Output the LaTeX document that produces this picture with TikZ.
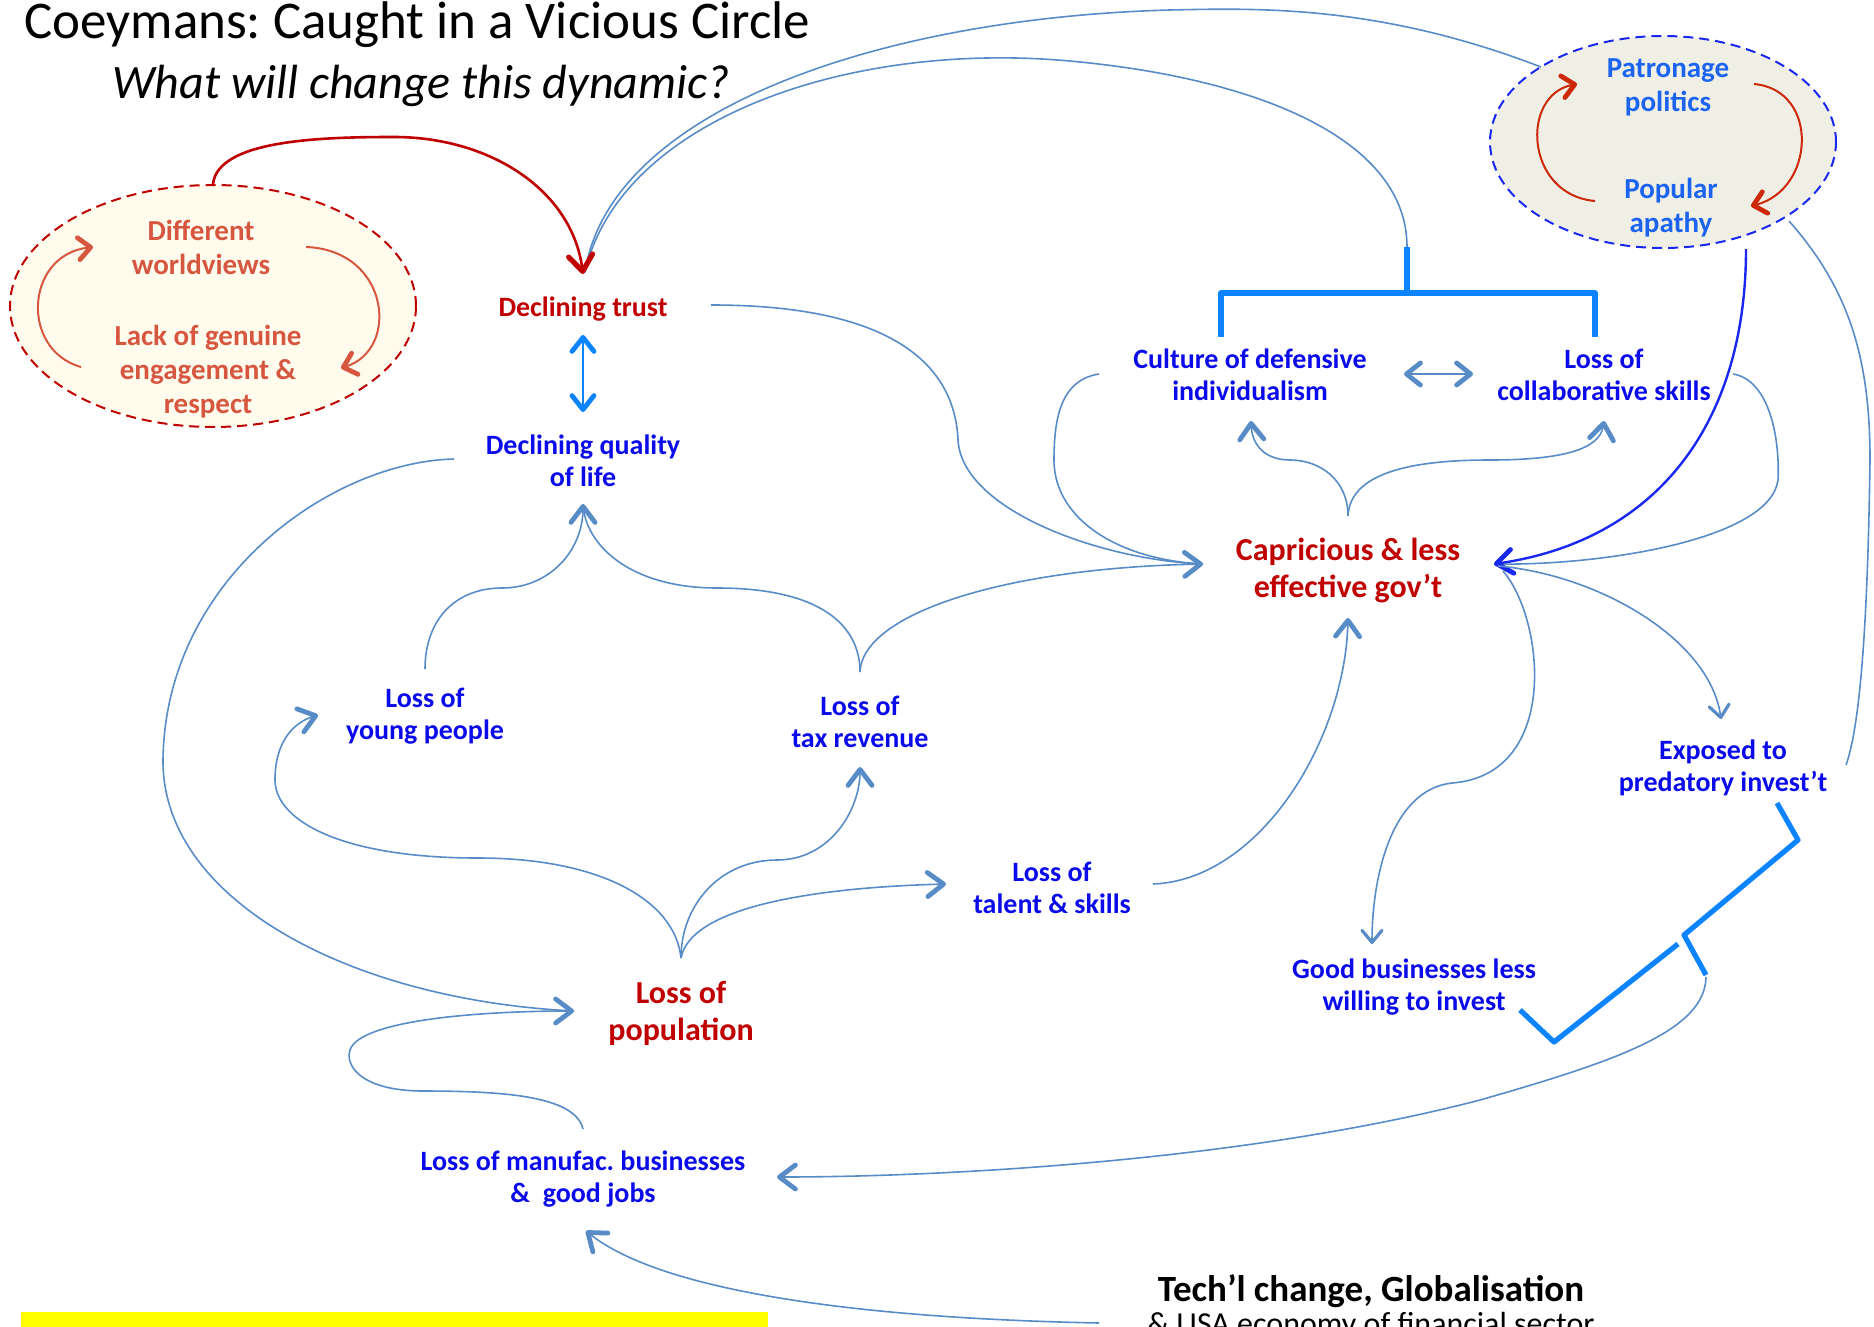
\documentclass[tikz,border=0pt]{standalone}
\usepackage{fontspec}
\setmainfont{Carlito}
\usetikzlibrary{arrows.meta, shapes.geometric, calc}

\definecolor{linkblue}{RGB}{88,140,198}
\definecolor{textblue}{RGB}{10,10,235}
\definecolor{corered}{RGB}{192,0,0}
\definecolor{worldred}{RGB}{214,86,64}
\definecolor{loopred}{RGB}{205,40,10}
\definecolor{brightblue}{RGB}{12,132,255}
\definecolor{deepblue}{RGB}{25,40,240}
\definecolor{patronblue}{RGB}{28,100,240}
\definecolor{creamfill}{RGB}{255,252,238}
\definecolor{greyfill}{RGB}{239,239,230}
\definecolor{marker}{RGB}{255,255,0}

\tikzset{
  factor/.style={text=textblue, align=center, inner sep=0pt, font=\fontsize{14}{16}\selectfont\bfseries},
  outcome/.style={text=corered, align=center, inner sep=0pt, font=\fontsize{16}{18.5}\selectfont\bfseries},
  loopnote/.style={align=center, inner sep=0pt, font=\fontsize{14.5}{17}\selectfont\bfseries},
  loopring/.style={ellipse, inner sep=0pt, line width=1pt, dash pattern=on 5pt off 3pt},
  link/.style={draw=linkblue, line width=0.8pt},
  barb/.style={-{Straight Barb[length=8pt,width=12pt,line width=2.4pt,round]}},
  thinbarb/.style={-{Straight Barb[length=6pt,width=10pt,line width=1.6pt,round]}},
  loopbarb/.style={line width=1pt, -{Straight Barb[length=6pt,width=11pt,line width=2.4pt,round]}},
  twobarb/.style={{Straight Barb[length=7pt,width=11pt,line width=2.4pt,round]}-{Straight Barb[length=7pt,width=11pt,line width=2.4pt,round]}},
  brace/.style={draw=brightblue, line width=2.6pt, line join=round}
}

\begin{document}
\frenchspacing
\begin{tikzpicture}[x=0.5pt, y=-0.5pt]
\useasboundingbox (0,0) rectangle (1874,1327);

% title
\node[anchor=base west, inner sep=0pt, font=\fontsize{26.5}{30}\selectfont] (title) at (24,39) {Coeymans: Caught in a Vicious Circle};
\node[anchor=base, inner sep=0pt, font=\fontsize{24}{30}\selectfont\itshape] (subtitle) at (421,99) {What will change this dynamic?};

% the two inner loops
\node[loopring, draw=corered, fill=creamfill, minimum width=203pt, minimum height=121pt] (loopL) at (213,306) {};
\node[loopnote, text=worldred] (worldviews) at (201,247) {Different\\worldviews};
\node[loopnote, text=worldred] (respect) at (208,372) {Lack of genuine\\engagement \&\\respect};
\node[loopring, draw=deepblue, fill=greyfill, minimum width=173pt, minimum height=106pt] (loopR) at (1663,142) {};
\node[loopnote, text=patronblue] (patronage) at (1668,87) {Patronage\\politics};
\node[loopnote, text=patronblue] (apathy) at (1671,208) {Popular\\apathy};

% factors
\node[factor, text=corered] (trust) at (583,309) {Declining trust};
\node[factor] (quality) at (583,461) {Declining quality\\of life};
\node[factor] (young) at (425,716) {Loss of\\young people};
\node[factor] (revenue) at (860,722) {Loss of\\tax revenue};
\node[factor] (talent) at (1052,888) {Loss of\\talent \& skills};
\node[outcome] (population) at (681,1013) {Loss of\\population};
\node[factor] (manufac) at (583,1179) {Loss of manufac. businesses\\\&~ good jobs};
\node[outcome] (gov) at (1348,570) {Capricious \& less\\effective gov’t};
\node[factor] (culture) at (1250,375) {Culture of defensive\\individualism};
\node[factor] (collab) at (1604,375) {Loss of\\collaborative skills};
\node[factor] (predatory) at (1723,768) {Exposed to\\predatory invest’t};
\node[factor] (goodbiz) at (1414,987) {Good businesses less\\willing to invest};
\node[inner sep=0pt, font=\fontsize{18.5}{22}\selectfont\bfseries] (drivers) at (1371,1291) {Tech’l change, Globalisation};
\node[anchor=base, inner sep=0pt, font=\fontsize{16}{19}\selectfont] (driversub) at (1371,1334) {\& USA economy of financial sector};
\fill[marker] (21,1312) rectangle (768,1345); % highlight strip

% loops inside the rings
\draw[worldred, loopbarb] ($(respect)+(-127,-5)$) .. controls (20,350) and (25,255) .. ($(worldviews)+(-108,0)$);
\draw[worldred, loopbarb] ($(worldviews)+(105,0)$) .. controls (390,250) and (400,350) .. ($(respect)+(133,-4)$);
\draw[loopred, loopbarb] ($(apathy)+(-76,-7)$) .. controls (1525,195) and (1520,95) .. ($(patronage)+(-91,-3)$);
\draw[loopred, loopbarb] ($(patronage)+(86,-3)$) .. controls (1820,90) and (1815,190) .. ($(apathy)+(80,-2)$);

% into declining trust
\draw[link] ($(loopR)+(-122,-75)$) .. controls (1380,5) and (1260,8) .. (1170,10) .. controls (880,18) and (610,110) .. ($(trust)+(2,-37)$);
\draw[link] ($(culture)+(157,-128)$) .. controls (1407,140) and (1260,80) .. (1080,62) .. controls (850,38) and (620,120) .. ($(trust)+(2,-37)$);
\draw[corered, line width=1.3pt, -{Straight Barb[length=8pt,width=12pt,line width=2.6pt,round]}] (loopL.north) .. controls (218,140) and (320,137) .. (394,137) .. controls (490,137) and (572,190) .. ($(trust)+(0,-35)$);
\draw[brightblue, line width=1.1pt, twobarb] ($(trust)+(0,26)$) -- ($(quality)+(0,-49)$);

% brackets
\draw[brace] ($(culture)+(157,-128)$) -- ($(culture)+(157,-82)$);
\draw[brace] ($(culture)+(-29,-38)$) -- ($(culture)+(-29,-82)$) -- ($(collab)+(-9,-82)$) -- ($(collab)+(-9,-38)$);
\draw[brace] ($(predatory)+(54,35)$) -- ($(predatory)+(75,72)$) -- ($(predatory)+(-39,167)$) -- ($(predatory)+(-17,207)$);
\draw[brace] ($(goodbiz)+(264,-43)$) -- ($(goodbiz)+(140,55)$) -- ($(goodbiz)+(106,23)$);

% causes feeding the government
\draw[link] ($(trust)+(128,-4)$) .. controls (900,305) and (955,370) .. (958,440) .. controls (962,510) and (1100,560) .. ($(gov)+(-145,-6)$);
\draw[link] ($(culture)+(-151,-1)$) .. controls (1060,380) and (1054,420) .. (1054,460) .. controls (1054,520) and (1120,560) .. ($(gov)+(-145,-6)$);
\draw[link, barb] ($(revenue)+(0,-50)$) .. controls (862,615) and (1000,568) .. ($(gov)+(-145,-6)$);
\draw[link] ($(revenue)+(0,-50)$) .. controls (860,625) and (820,588) .. (717,588) .. controls (630,588) and (585,545) .. ($(quality)+(0,43)$);
\draw[link, barb] ($(young)+(0,-47)$) .. controls (425,620) and (455,588) .. (502,588) .. controls (550,588) and (583,550) .. ($(quality)+(0,43)$);
\draw[link, line width=1.2pt, twobarb] ($(culture)+(154,-1)$) -- ($(collab)+(-131,-1)$);

% into loss of population
\draw[link] ($(quality)+(-129,-2)$) .. controls (330,462) and (165,580) .. (163,760) .. controls (162,900) and (350,1000) .. ($(population)+(-107,-2)$);
\draw[link, barb] ($(manufac)+(0,-50)$) .. controls (575,1095) and (500,1091) .. (420,1091) .. controls (360,1090) and (345,1065) .. (350,1050) .. controls (360,1020) and (480,1011) .. ($(population)+(-107,-2)$);

% population fans out
\draw[link, barb] ($(population)+(0,-55)$) .. controls (675,900) and (600,858) .. (478,858) .. controls (340,858) and (275,820) .. (275,780) .. controls (275,740) and (295,722) .. ($(young)+(-107,-1)$);
\draw[link, barb] ($(population)+(0,-55)$) .. controls (681,905) and (720,860) .. (777,860) .. controls (830,860) and (860,810) .. ($(revenue)+(0,45)$);
\draw[link, barb] ($(population)+(0,-55)$) .. controls (690,910) and (800,888) .. ($(talent)+(-106,-4)$);
\draw[link, barb] ($(talent)+(101,-4)$) .. controls (1260,880) and (1345,740) .. ($(gov)+(0,48)$);

% government fans out
\draw[link, barb] ($(gov)+(0,-54)$) .. controls (1348,480) and (1320,460) .. (1290,460) .. controls (1265,460) and (1252,445) .. ($(culture)+(1,46)$);
\draw[link, barb] ($(gov)+(0,-54)$) .. controls (1350,470) and (1420,460) .. (1490,460) .. controls (1560,460) and (1600,450) .. ($(collab)+(0,46)$);
\draw[link] ($(collab)+(129,-1)$) .. controls (1770,380) and (1780,440) .. (1778,480) .. controls (1770,540) and (1600,566) .. ($(gov)+(146,-6)$);
\draw[deepblue, line width=1.2pt, barb] ($(loopR)+(83,107)$) .. controls (1746,420) and (1660,540) .. ($(gov)+(146,-6)$);
\draw[link, thinbarb] ($(gov)+(150,-4)$) .. controls (1600,575) and (1710,640) .. ($(predatory)+(-2,-49)$);
\draw[link, thinbarb] ($(gov)+(155,1)$) .. controls (1545,620) and (1560,775) .. (1452,783) .. controls (1390,790) and (1372,880) .. ($(goodbiz)+(-42,-43)$);
\draw[link] ($(loopR)+(126,79)$) .. controls (1850,290) and (1870,360) .. (1870,460) .. controls (1868,600) and (1862,720) .. ($(predatory)+(123,-3)$);

% back down to manufacturing
\draw[link, barb] ($(predatory)+(-17,209)$) .. controls (1705,1030) and (1620,1060) .. (1480,1100) .. controls (1250,1160) and (950,1177) .. ($(manufac)+(194,-2)$);
\draw[link, barb] ($(drivers)+(-272,32)$) .. controls (850,1318) and (660,1290) .. ($(manufac)+(3,52)$);
\end{tikzpicture}
\end{document}
